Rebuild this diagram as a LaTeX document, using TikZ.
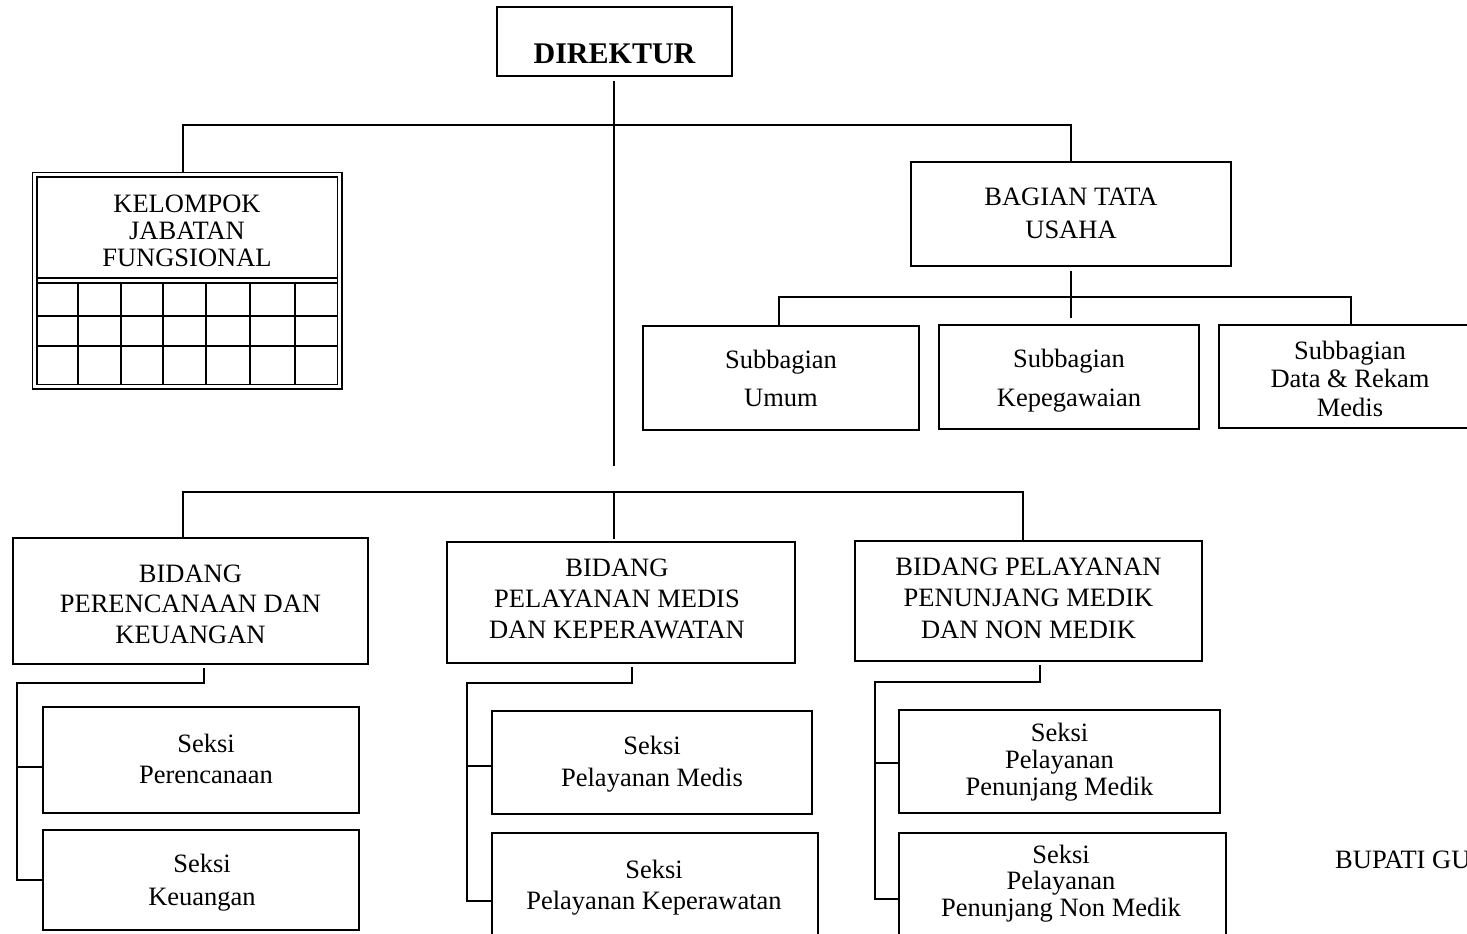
\documentclass[tikz,border=0pt]{standalone}
\usepackage{fontspec}
\setmainfont{Liberation Serif}
\begin{document}
\begin{tikzpicture}[x=1pt,y=-1pt,
  box/.style={draw, line width=1.4pt, inner sep=0pt, outer sep=0pt},
  txt/.style={anchor=north, inner sep=0pt, align=center, font=\fontsize{26.5}{#1}\selectfont},
  txt/.default=31,
  conn/.style={line width=1.4pt},
  grid/.style={line width=1.3pt}]
\useasboundingbox (0,0) rectangle (1467,934);

% ---------- boxes ----------
\node[box, minimum width=235pt, minimum height=69pt] (dir) at (614.5,41.5) {};
\node[box, line width=1.3pt, double, double distance=3.4pt, minimum width=305pt, minimum height=212pt] (kjf) at (187,280.5) {};
\node[box, minimum width=320pt, minimum height=104pt] (bag) at (1071,214) {};
\node[box, minimum width=276pt, minimum height=104pt] (subU) at (781,378) {};
\node[box, minimum width=260pt, minimum height=104pt] (subK) at (1069,377) {};
\node[box, minimum width=263pt, minimum height=103pt] (subD) at (1350.5,376.5) {};
\node[box, minimum width=355pt, minimum height=126pt] (bidP) at (190.5,601) {};
\node[box, minimum width=348pt, minimum height=121pt] (bidM) at (621,602.5) {};
\node[box, minimum width=347pt, minimum height=120pt] (bidR) at (1028.5,601) {};
\node[box, minimum width=316pt, minimum height=106pt] (sP) at (201,760) {};
\node[box, minimum width=316pt, minimum height=100pt] (sK) at (201,880) {};
\node[box, minimum width=320pt, minimum height=103pt] (sPM) at (652,762.5) {};
\node[box, minimum width=326pt, minimum height=117pt] (sPK) at (655,891.5) {};
\node[box, minimum width=321pt, minimum height=103pt] (sPPM) at (1059.5,761.5) {};
\node[box, minimum width=327pt, minimum height=117pt] (sPPN) at (1062.5,891.5) {};

% ---------- grid of the functional group box ----------
\draw[grid] (37,278) -- (337,278);
\draw[grid] (37,283) -- (337,283);
\draw[grid] (37,316) -- (337,316);
\draw[grid] (37,346) -- (337,346);
\foreach \gx in {78,121,163,206,250,295}
  \draw[grid] (\gx,283) -- (\gx,384);

% ---------- texts ----------
\node[txt, anchor=north, font=\fontsize{30}{34}\selectfont\bfseries] (dirT) at (614.5,44) {DIREKTUR};
\node[txt=27] (kjfT) at (187,194.5) {KELOMPOK\\JABATAN\\FUNGSIONAL};
\node[txt=33] (bagT) at (1071,187.5) {BAGIAN TATA\\USAHA};
\node[txt=38] (subUT) at (781,349.5) {Subbagian\\Umum};
\node[txt=39] (subKT) at (1069,348.5) {Subbagian\\Kepegawaian};
\node[txt=28.5] (subDT) at (1350,340.5) {Subbagian\\Data \& Rekam\\Medis};
\node[txt=30.5] (bidPT) at (190.5,564.5) {BIDANG\\PERENCANAAN DAN\\KEUANGAN};
\node[txt=31] (bidMT) at (617,558.5) {BIDANG\\PELAYANAN MEDIS\\DAN KEPERAWATAN};
\node[txt=31.5] (bidRT) at (1028.5,557.5) {BIDANG PELAYANAN\\PENUNJANG MEDIK\\DAN NON MEDIK};
\node[txt=31] (sPT) at (206,733.5) {Seksi\\Perencanaan};
\node[txt=33] (sKT) at (202,853.5) {Seksi\\Keuangan};
\node[txt=32] (sPMT) at (652,735.5) {Seksi\\Pelayanan Medis};
\node[txt=31] (sPKT) at (654,859.5) {Seksi\\Pelayanan Keperawatan};
\node[txt=27] (sPPMT) at (1059.5,722.5) {Seksi\\Pelayanan\\Penunjang Medik};
\node[txt=26.5] (sPPNT) at (1061,844.5) {Seksi\\Pelayanan\\Penunjang Non Medik};
\node[anchor=base west, inner sep=0pt, font=\fontsize{26.5}{31}\selectfont] (bup) at (1335,868) {BUPATI GU};

% ---------- connectors ----------
\coordinate (tEnd) at (614,466);
\coordinate (jL) at (183,125);
\coordinate (jR) at (1071,125);
\draw[conn] ([yshift=-5pt]dir.south -| tEnd) -- (tEnd);
\draw[conn] ([yshift=2.8pt]kjf.north -| jL) -- (jL) -- (jR) -- (bag.north);

\coordinate (bEnd) at (1071,318);
\coordinate (sA) at (779,297);
\coordinate (sB) at (1351,297);
\draw[conn] ([yshift=-5pt]bag.south) -- (bEnd);
\draw[conn] (subU.north -| sA) -- (sA) -- (sB) -- (subD.north -| sB);

\coordinate (bL) at (183,492);
\coordinate (bM) at (614,492);
\coordinate (bR) at (1023,492);
\draw[conn] (bidP.north -| bL) -- (bL) -- (bR) -- (bidR.north -| bR);
\draw[conn] (bM) -- ([yshift=3pt]bidM.north -| bM);

\coordinate (pA) at (204,683);
\coordinate (pB) at (17,683);
\coordinate (pC) at (17,767);
\coordinate (pD) at (17,880);
\draw[conn] ([yshift=-4pt]bidP.south -| pA) -- (pA) -- (pB) -- (pD) -- (sK.west |- pD);
\draw[conn] (pC) -- (sP.west |- pC);

\coordinate (mA) at (632,683);
\coordinate (mB) at (467,683);
\coordinate (mC) at (467,766);
\coordinate (mD) at (467,901);
\draw[conn] ([yshift=-4pt]bidM.south -| mA) -- (mA) -- (mB) -- (mD) -- (sPK.west |- mD);
\draw[conn] (mC) -- (sPM.west |- mC);

\coordinate (rA) at (1040,682);
\coordinate (rB) at (875,682);
\coordinate (rC) at (875,763);
\coordinate (rD) at (875,899);
\draw[conn] ([yshift=-4pt]bidR.south -| rA) -- (rA) -- (rB) -- (rD) -- (sPPN.west |- rD);
\draw[conn] (rC) -- (sPPM.west |- rC);
\end{tikzpicture}
\end{document}
